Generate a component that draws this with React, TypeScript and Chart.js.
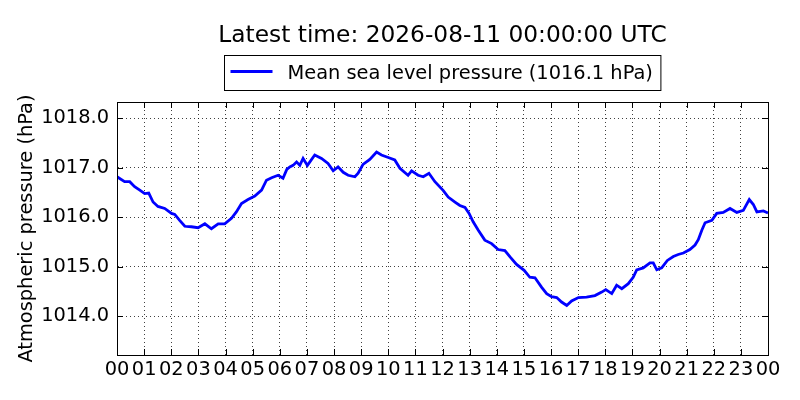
import React, { useEffect, useRef } from 'react';
import { Chart, registerables } from 'chart.js';

Chart.register(...registerables);

const TITLE = 'Latest time: 2026-08-11 00:00:00 UTC';
const SERIES_LABEL = 'Mean sea level pressure (1016.1 hPa)';
const Y_LABEL = 'Atmospheric pressure (hPa)';

// hours since 00 UTC
const hours = [
  0.0, 0.28, 0.47, 0.65, 0.84, 1.02, 1.17, 1.33, 1.51, 1.76, 2.01, 2.13, 2.31, 2.5, 2.74, 2.99,
  3.24, 3.48, 3.73, 3.97, 4.22, 4.4, 4.59, 4.83, 5.08, 5.33, 5.51, 5.7, 5.94, 6.12, 6.26, 6.37,
  6.49, 6.62, 6.74, 6.86, 7.02, 7.29, 7.54, 7.78, 7.97, 8.15, 8.34, 8.52, 8.77, 8.89, 9.07, 9.32,
  9.57, 9.75, 10.0, 10.24, 10.43, 10.73, 10.86, 11.1, 11.29, 11.5, 11.72, 12.03, 12.21, 12.46,
  12.64, 12.83, 12.98, 13.13, 13.32, 13.56, 13.81, 14.05, 14.3, 14.49, 14.73, 15.01, 15.22,
  15.41, 15.65, 15.84, 16.02, 16.21, 16.39, 16.58, 16.76, 17.01, 17.31, 17.62, 17.87, 18.02,
  18.24, 18.42, 18.61, 18.85, 19.03, 19.16, 19.4, 19.65, 19.77, 19.9, 20.08, 20.29, 20.51,
  20.69, 20.88, 21.12, 21.31, 21.43, 21.56, 21.68, 21.93, 22.11, 22.35, 22.6, 22.85, 23.09,
  23.31, 23.46, 23.59, 23.83, 24.0,
];

// mean sea level pressure (hPa)
const pressure = [
  1016.82, 1016.72, 1016.72, 1016.62, 1016.55, 1016.48, 1016.49, 1016.31, 1016.22, 1016.18,
  1016.08, 1016.06, 1015.94, 1015.82, 1015.81, 1015.79, 1015.87, 1015.77, 1015.87, 1015.87,
  1015.98, 1016.11, 1016.28, 1016.36, 1016.43, 1016.55, 1016.75, 1016.8, 1016.85, 1016.79,
  1016.97, 1017.02, 1017.05, 1017.12, 1017.05, 1017.19, 1017.05, 1017.26, 1017.19, 1017.09,
  1016.94, 1017.02, 1016.91, 1016.85, 1016.82, 1016.89, 1017.07, 1017.17, 1017.32, 1017.26,
  1017.21, 1017.16, 1016.99, 1016.85, 1016.94, 1016.85, 1016.82, 1016.89, 1016.72, 1016.54,
  1016.41, 1016.31, 1016.24, 1016.2, 1016.08, 1015.91, 1015.74, 1015.54, 1015.47, 1015.35,
  1015.33, 1015.2, 1015.05, 1014.93, 1014.79, 1014.78, 1014.59, 1014.46, 1014.4, 1014.38,
  1014.29, 1014.22, 1014.31, 1014.38, 1014.39, 1014.42, 1014.49, 1014.54, 1014.46, 1014.63,
  1014.56, 1014.66, 1014.79, 1014.94, 1014.98, 1015.08, 1015.08, 1014.94, 1014.98, 1015.13,
  1015.21, 1015.25, 1015.28, 1015.35, 1015.44, 1015.55, 1015.74, 1015.89, 1015.94, 1016.08,
  1016.1, 1016.18, 1016.1, 1016.14, 1016.36, 1016.26, 1016.11, 1016.13, 1016.09,
];

const xTicks = [0, 1, 2, 3, 4, 5, 6, 7, 8, 9, 10, 11, 12, 13, 14, 15, 16, 17, 18, 19, 20, 21, 22, 23, 24];
const xTickLabels = [
  '00', '01', '02', '03', '04', '05', '06', '07', '08', '09', '10', '11', '12',
  '13', '14', '15', '16', '17', '18', '19', '20', '21', '22', '23', '00',
];
const yTicks = [1014, 1015, 1016, 1017, 1018];
const yRange = [1013.22, 1018.33];

const FONT = '"DejaVu Sans", "Liberation Sans", sans-serif';
const LINE_COLOR = '#0000ff';
const LINE_WIDTH = 2.8;

const decorPlugin = {
  id: 'decor',
  afterDraw(chart: any) {
    const { ctx, chartArea: a, scales } = chart;
    ctx.save();
    // inward tick marks on all four sides
    ctx.strokeStyle = '#000';
    ctx.lineWidth = 1;
    const L = 6;
    ctx.beginPath();
    scales.x.ticks.forEach((t: any) => {
      const px = Math.round(scales.x.getPixelForValue(t.value)) + 0.5;
      ctx.moveTo(px, a.bottom);
      ctx.lineTo(px, a.bottom - L);
      ctx.moveTo(px, a.top);
      ctx.lineTo(px, a.top + L);
    });
    scales.y.ticks.forEach((t: any) => {
      const py = Math.round(scales.y.getPixelForValue(t.value)) + 0.5;
      ctx.moveTo(a.left, py);
      ctx.lineTo(a.left + L, py);
      ctx.moveTo(a.right, py);
      ctx.lineTo(a.right - L, py);
    });
    ctx.stroke();
    // frame
    ctx.strokeRect(Math.round(a.left) + 0.5, Math.round(a.top) + 0.5, Math.round(a.right - a.left), Math.round(a.bottom - a.top));

    const cx = (a.left + a.right) / 2;
    // title
    ctx.fillStyle = '#000';
    ctx.font = `23.3px ${FONT}`;
    ctx.textAlign = 'center';
    ctx.textBaseline = 'alphabetic';
    ctx.fillText(TITLE, cx, a.top - 59.7);

    // legend
    ctx.font = `19.4px ${FONT}`;
    const tw = ctx.measureText(SERIES_LABEL).width;
    const padL = 6, lineLen = 42, gap = 15, padR = 8;
    const boxW = padL + lineLen + gap + tw + padR;
    const boxH = 35;
    const bx = Math.round(cx - boxW / 2) + 0.5;
    const by = Math.round(a.top - 47) + 0.5;
    ctx.fillStyle = '#fff';
    ctx.fillRect(bx, by, boxW, boxH);
    ctx.strokeStyle = '#000';
    ctx.lineWidth = 1;
    ctx.strokeRect(bx, by, boxW, boxH);
    ctx.strokeStyle = LINE_COLOR;
    ctx.lineWidth = LINE_WIDTH;
    ctx.beginPath();
    ctx.moveTo(bx + padL, by + 16);
    ctx.lineTo(bx + padL + lineLen, by + 16);
    ctx.stroke();
    ctx.fillStyle = '#000';
    ctx.textAlign = 'left';
    ctx.fillText(SERIES_LABEL, bx + padL + lineLen + gap, by + 23);
    ctx.restore();
  },
};

export default function App() {
  const canvasRef = useRef<HTMLCanvasElement | null>(null);

  useEffect(() => {
    if (!canvasRef.current) return;
    Chart.defaults.font.family = FONT;
    Chart.defaults.color = '#000';
    const gridStyle = {
      color: 'rgba(0,0,0,0.75)',
      lineWidth: 1,
      drawTicks: false,
    };
    // in Chart.js 4, border.dash sets the dash pattern of the grid lines
    const borderStyle = { display: true, color: '#000', width: 1, dash: [1, 3] };
    const chart = new Chart(canvasRef.current, {
      type: 'line',
      data: {
        datasets: [
          {
            label: SERIES_LABEL,
            data: hours.map((h, i) => ({ x: h, y: pressure[i] })),
            borderColor: LINE_COLOR,
            borderWidth: LINE_WIDTH,
            pointRadius: 0,
            tension: 0,
            fill: false,
          },
        ],
      },
      options: {
        animation: false,
        responsive: false,
        maintainAspectRatio: false,
        layout: { padding: { top: 102, right: 32, bottom: 0, left: 0 } },
        plugins: {
          legend: { display: false },
          title: { display: false },
          tooltip: { enabled: false },
        },
        scales: {
          x: {
            type: 'linear',
            min: xTicks[0],
            max: xTicks[xTicks.length - 1],
            afterBuildTicks: (scale: any) => {
              scale.ticks = xTicks.map((v) => ({ value: v }));
            },
            afterFit: (scale: any) => {
              scale.height = 45;
            },
            ticks: {
              autoSkip: false,
              maxRotation: 0,
              minRotation: 0,
              padding: 3,
              font: { size: 19.4 },
              color: '#000',
              callback: (_v: any, i: number) => xTickLabels[i],
            },
            grid: gridStyle,
            border: borderStyle,
          },
          y: {
            type: 'linear',
            min: yRange[0],
            max: yRange[1],
            afterBuildTicks: (scale: any) => {
              scale.ticks = yTicks.map((v) => ({ value: v }));
            },
            afterFit: (scale: any) => {
              scale.width = 117;
            },
            ticks: {
              padding: 8,
              font: { size: 19.4 },
              color: '#000',
              callback: (v: any) => Number(v).toFixed(1),
            },
            grid: gridStyle,
            border: borderStyle,
            title: {
              display: true,
              text: Y_LABEL,
              font: { size: 19.4 },
              color: '#000',
              padding: { top: 15, bottom: 0 },
            },
          },
        },
      },
      plugins: [decorPlugin],
    } as any);
    return () => chart.destroy();
  }, []);

  return (
    <div style={{ position: 'fixed', left: 0, top: 0, width: 800, height: 400, background: '#fff' }}>
      <canvas ref={canvasRef} width={800} height={400} style={{ width: 800, height: 400 }} />
    </div>
  );
}
